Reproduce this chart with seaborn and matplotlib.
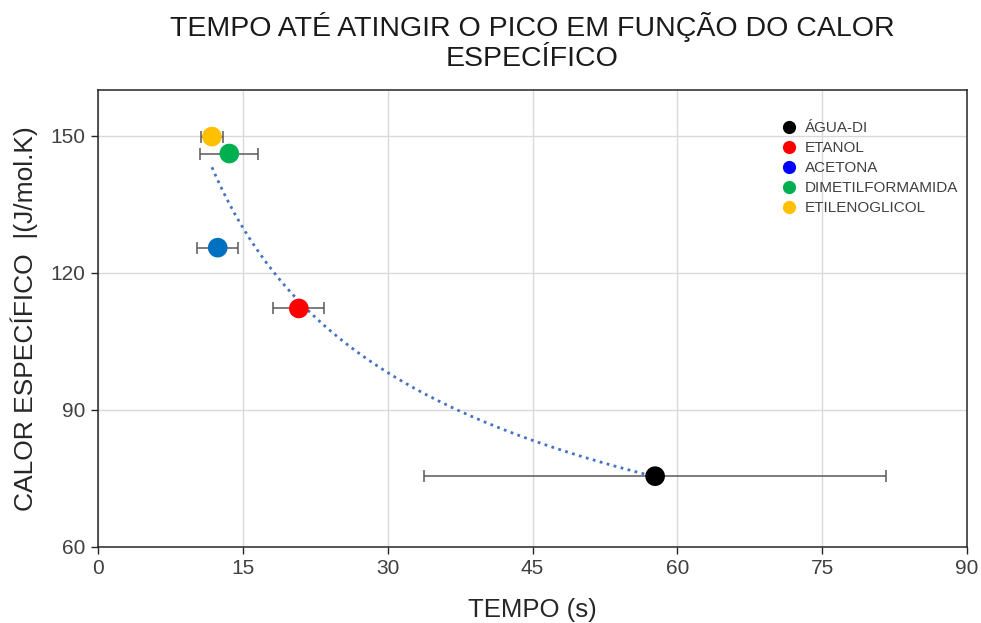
import numpy as np
import pandas as pd
import matplotlib
matplotlib.use("Agg")
import matplotlib.pyplot as plt
from matplotlib.lines import Line2D
import seaborn as sns

substances = ["ÁGUA-DI", "ETANOL", "ACETONA", "DIMETILFORMAMIDA", "ETILENOGLICOL"]
tempo = [57.7, 20.8, 12.4, 13.6, 11.8]
tempo_err = [23.9, 2.65, 2.1, 3.0, 1.1]
calor = [75.5, 112.2, 125.5, 146.1, 149.8]
point_colors = ["#000000", "#FF0000", "#0070C0", "#00B050", "#FFC000"]
legend_colors = ["#000000", "#FF0000", "#0000FF", "#00B050", "#FFC000"]

x_ticks = [0, 15, 30, 45, 60, 75, 90]
y_ticks = [60, 90, 120, 150]

df = pd.DataFrame({"substance": substances, "tempo": tempo, "err": tempo_err, "calor": calor})

sns.set_theme(style="white")
plt.rcParams["font.family"] = ["Liberation Sans", "DejaVu Sans"]

fig = plt.figure(figsize=(9.81, 6.23), dpi=100)
ax = fig.add_axes([98 / 981, 1 - 547 / 623, (967 - 98) / 981, (547 - 90) / 623])

# error bars
ax.errorbar(df["tempo"], df["calor"], xerr=df["err"], fmt="none", ecolor="#595959",
            elinewidth=1.1, capsize=4.5, capthick=1.1, zorder=2)

# power trendline fitted from the data
b, lna = np.polyfit(np.log(df["tempo"]), np.log(df["calor"]), 1)
xs = np.linspace(min(tempo), max(tempo), 200)
ax.plot(xs, np.exp(lna) * xs ** b, linestyle=(0, (1, 1.6)), color="#4472C4", linewidth=2.0, zorder=3)

sns.scatterplot(data=df, x="tempo", y="calor", hue="substance", palette=point_colors,
                s=200, edgecolor="none", legend=False, ax=ax, zorder=4)

ax.set_xlim(0, 90)
ax.set_ylim(60, 160)
ax.set_xticks(x_ticks)
ax.set_yticks(y_ticks)
ax.grid(True, color="#D9D9D9", linewidth=1)
ax.set_axisbelow(True)
for s in ax.spines.values():
    s.set_color("#262626")
    s.set_linewidth(1.1)
ax.tick_params(axis="both", which="both", direction="out", length=5, width=1, color="#262626",
               labelsize=15, labelcolor="#404040", bottom=True, left=True, pad=4)

ax.set_xlabel("TEMPO (s)", fontsize=18.5, color="#262626", labelpad=14)
ax.set_ylabel("CALOR ESPECÍFICO  |(J/mol.K)", fontsize=19, color="#262626", labelpad=9)
ax.set_title("TEMPO ATÉ ATINGIR O PICO EM FUNÇÃO DO CALOR\nESPECÍFICO", fontsize=20.5,
             color="#1a1a1a", pad=17, linespacing=1.2)

handles = [Line2D([0], [0], marker="o", linestyle="none", markersize=9.5, markerfacecolor=c,
                  markeredgecolor="none") for c in legend_colors]
leg = ax.legend(handles, substances, loc="upper left", bbox_to_anchor=(781 / 981, 1 - 121 / 623),
                bbox_transform=fig.transFigure, frameon=False, fontsize=11, handlelength=1.0,
                handletextpad=0.55, labelspacing=0.4, borderaxespad=0, borderpad=0)
for t in leg.get_texts():
    t.set_color("#404040")

fig.savefig("out.png", dpi=100)
